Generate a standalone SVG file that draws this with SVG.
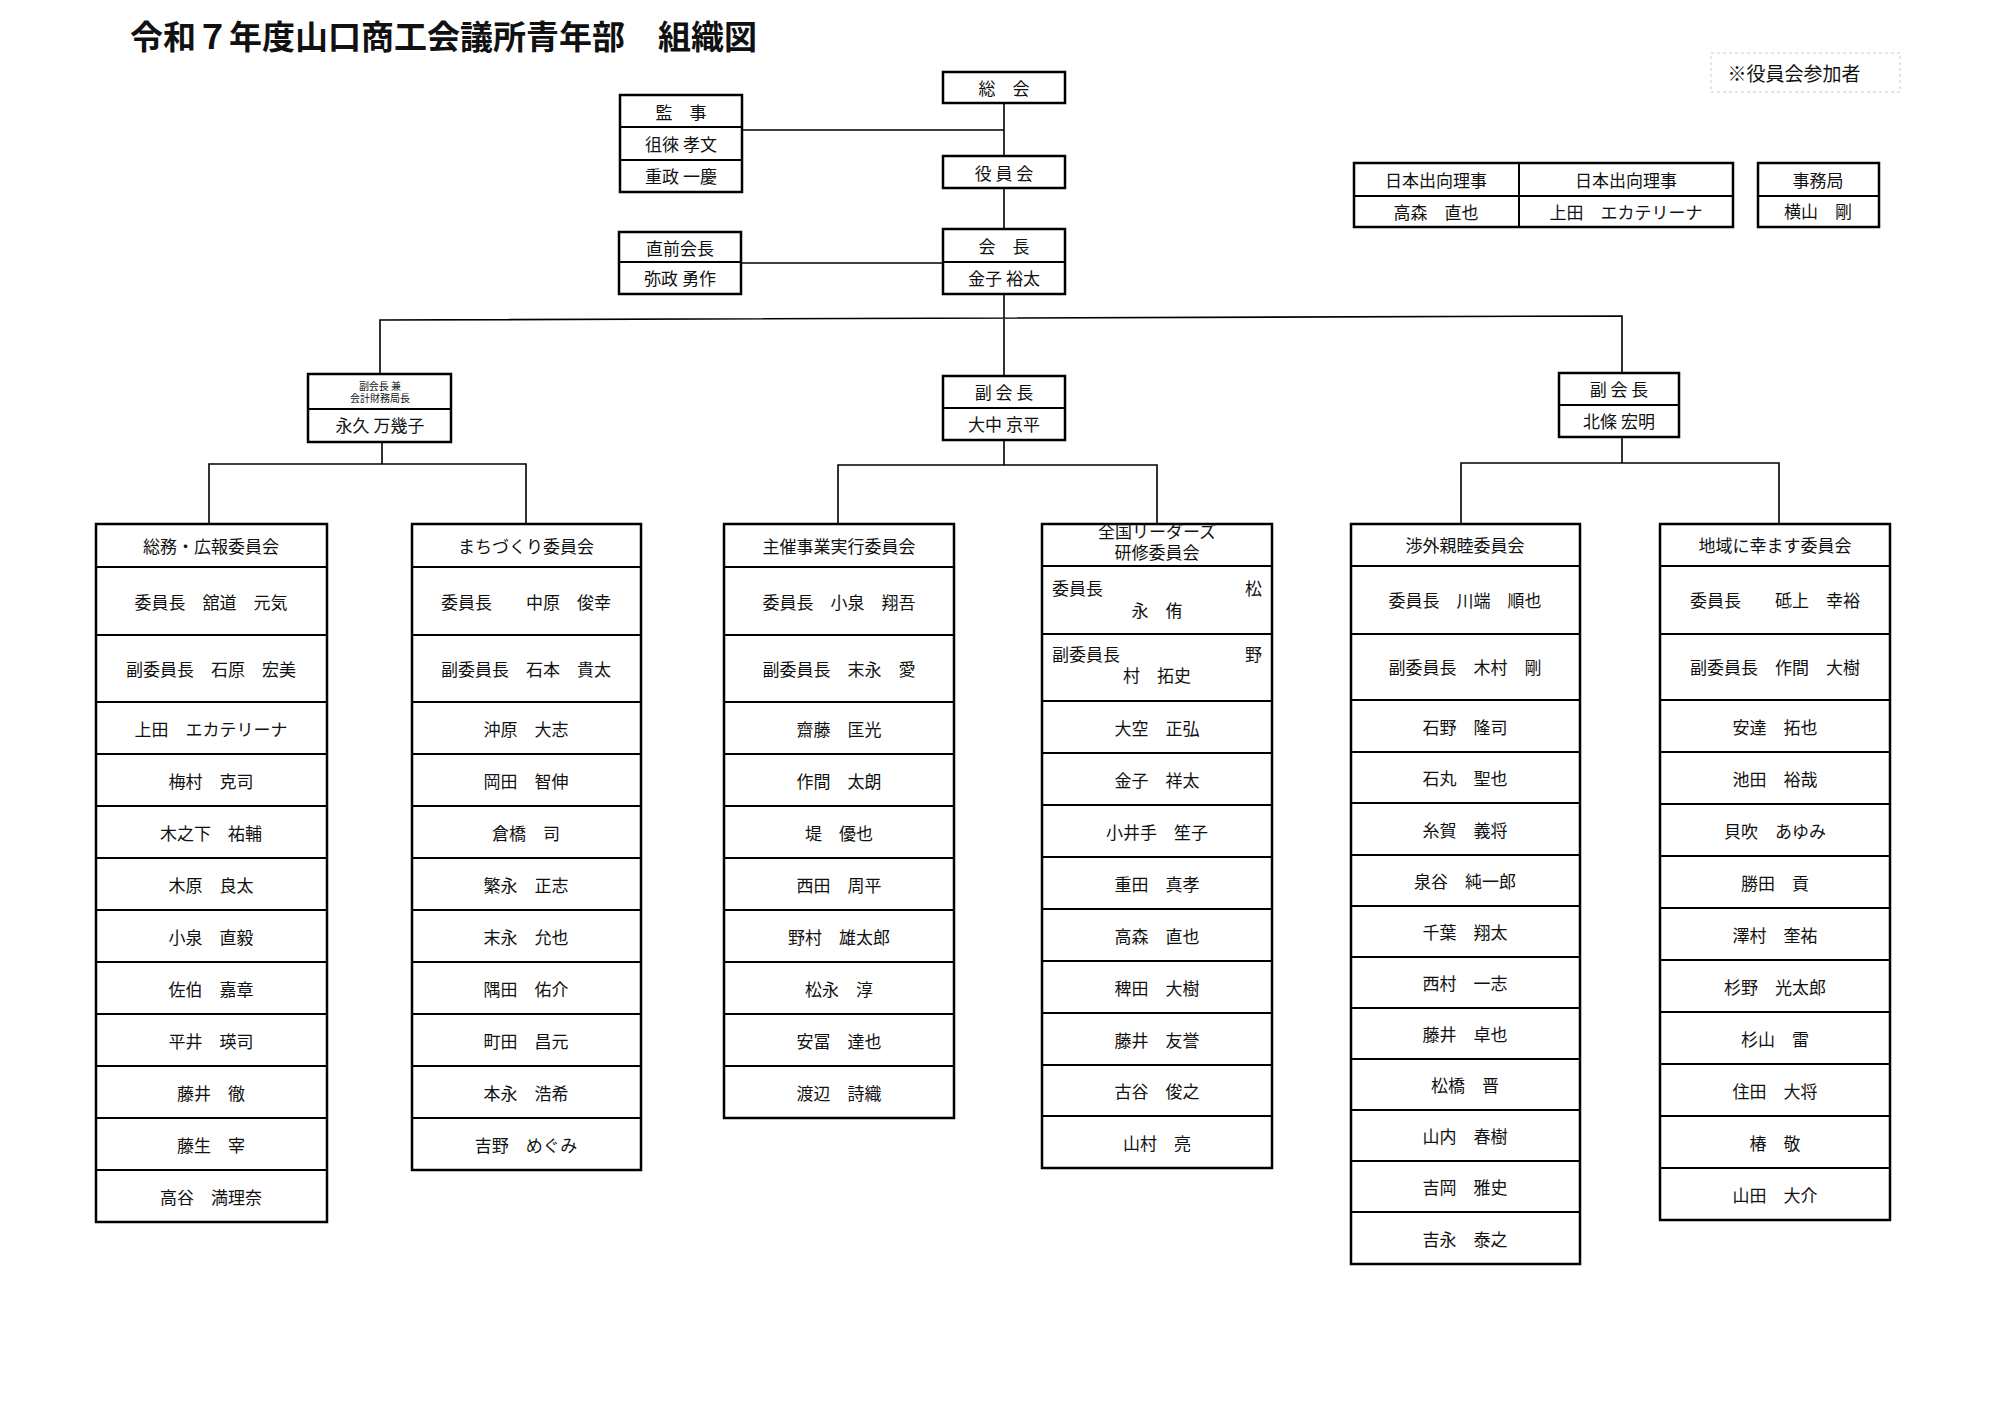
<svg xmlns="http://www.w3.org/2000/svg" width="2000" height="1414" viewBox="0 0 2000 1414">
<style>
text{font-family:"Noto Sans CJK JP","Liberation Sans",sans-serif;font-size:17px;fill:#111;text-anchor:middle;dominant-baseline:central}
.b{fill:#fff;stroke:#000;stroke-width:2.5}
.l{stroke:#000;stroke-width:2;fill:none}
.c{stroke:#000;stroke-width:1.6;fill:none}
.t{font-size:33px;font-weight:bold;text-anchor:start}
.s{font-size:10px}
</style>
<rect width="2000" height="1414" fill="#fff"/>
<text class="t" x="130" y="35">令和７年度山口商工会議所青年部　組織図</text>
<g id="connectors">
<path class="c" d="M1004 103V156M742 130H1004M1004 188V229M741 263H1004M1004 294V376M380 374V320L1622 316V373M382 442V464M209 524V464H526V524M1004 440V465M838 524V465H1157V524M1622 437V463M1461 524V463H1779V524"/>
</g>
<g id="note"><rect x="1711" y="53" width="189" height="39" fill="none" stroke="#ccc" stroke-dasharray="3 3"/><text x="1794" y="72" style="font-size:19px">※役員会参加者</text></g>
<g id="soukai"><rect class="b" x="943" y="72" width="122" height="31"/><text x="1004" y="87">総　会</text></g>
<g id="kanji"><rect class="b" x="620" y="95" width="122" height="97"/><path class="l" d="M620 127H742M620 160H742"/><text x="681" y="111">監　事</text><text x="681" y="143">徂徠 孝文</text><text x="681" y="175">重政 一慶</text></g>
<g id="yakuinkai"><rect class="b" x="943" y="156" width="122" height="32"/><text x="1004" y="172">役 員 会</text></g>
<g id="chokuzen"><rect class="b" x="619" y="232" width="122" height="62"/><path class="l" d="M619 262H741"/><text x="680" y="247">直前会長</text><text x="680" y="277">弥政 勇作</text></g>
<g id="kaicho"><rect class="b" x="943" y="229" width="122" height="65"/><path class="l" d="M943 262H1065"/><text x="1004" y="245">会　長</text><text x="1004" y="277">金子 裕太</text></g>
<g id="nihon"><rect class="b" x="1354" y="163" width="379" height="64"/><path class="l" d="M1354 196H1733M1519 163V227"/><text x="1436" y="179">日本出向理事</text><text x="1626" y="179">日本出向理事</text><text x="1436" y="211">高森　直也</text><text x="1626" y="211">上田　エカテリーナ</text></g>
<g id="jimukyoku"><rect class="b" x="1758" y="163" width="121" height="64"/><path class="l" d="M1758 196H1879"/><text x="1818" y="179">事務局</text><text x="1818" y="210">横山　剛</text></g>
<g id="fuku1"><rect class="b" x="308" y="374" width="143" height="68"/><path class="l" d="M308 409H451"/><text class="s" x="380" y="385">副会長 兼</text><text class="s" x="380" y="397">会計財務局長</text><text x="380" y="424">永久 万幾子</text></g>
<g id="fuku2"><rect class="b" x="943" y="376" width="122" height="64"/><path class="l" d="M943 408H1065"/><text x="1004" y="391">副 会 長</text><text x="1004" y="423">大中 京平</text></g>
<g id="fuku3"><rect class="b" x="1559" y="373" width="120" height="64"/><path class="l" d="M1559 405H1679"/><text x="1619" y="388">副 会 長</text><text x="1619" y="420">北條 宏明</text></g>

<g id="col1"><rect class="b" x="96" y="524" width="231" height="698"/><path class="l" d="M96 567H327M96 635H327M96 702H327M96 754H327M96 806H327M96 858H327M96 910H327M96 962H327M96 1014H327M96 1066H327M96 1118H327M96 1170H327"/>
<text x="211" y="545">総務・広報委員会</text><text x="211" y="601">委員長　舘道　元気</text><text x="211" y="668">副委員長　石原　宏美</text><text x="211" y="728">上田　エカテリーナ</text><text x="211" y="780">梅村　克司</text><text x="211" y="832">木之下　祐輔</text><text x="211" y="884">木原　良太</text><text x="211" y="936">小泉　直毅</text><text x="211" y="988">佐伯　嘉章</text><text x="211" y="1040">平井　瑛司</text><text x="211" y="1092">藤井　徹</text><text x="211" y="1144">藤生　宰</text><text x="211" y="1196">高谷　満理奈</text></g>

<g id="col2"><rect class="b" x="412" y="524" width="229" height="646"/><path class="l" d="M412 567H641M412 635H641M412 702H641M412 754H641M412 806H641M412 858H641M412 910H641M412 962H641M412 1014H641M412 1066H641M412 1118H641"/>
<text x="526" y="545">まちづくり委員会</text><text x="526" y="601">委員長　　中原　俊幸</text><text x="526" y="668">副委員長　石本　貴太</text><text x="526" y="728">沖原　大志</text><text x="526" y="780">岡田　智伸</text><text x="526" y="832">倉橋　司</text><text x="526" y="884">繁永　正志</text><text x="526" y="936">末永　允也</text><text x="526" y="988">隅田　佑介</text><text x="526" y="1040">町田　昌元</text><text x="526" y="1092">本永　浩希</text><text x="526" y="1144">吉野　めぐみ</text></g>

<g id="col3"><rect class="b" x="724" y="524" width="230" height="594"/><path class="l" d="M724 567H954M724 635H954M724 702H954M724 754H954M724 806H954M724 858H954M724 910H954M724 962H954M724 1014H954M724 1066H954"/>
<text x="839" y="545">主催事業実行委員会</text><text x="839" y="601">委員長　小泉　翔吾</text><text x="839" y="668">副委員長　末永　愛</text><text x="839" y="728">齋藤　匡光</text><text x="839" y="780">作間　太朗</text><text x="839" y="832">堤　優也</text><text x="839" y="884">西田　周平</text><text x="839" y="936">野村　雄太郎</text><text x="839" y="988">松永　淳</text><text x="839" y="1040">安冨　達也</text><text x="839" y="1092">渡辺　詩織</text></g>

<g id="col4"><rect class="b" x="1042" y="524" width="230" height="644"/><path class="l" d="M1042 566H1272M1042 634H1272M1042 701H1272M1042 753H1272M1042 805H1272M1042 857H1272M1042 909H1272M1042 961H1272M1042 1013H1272M1042 1065H1272M1042 1116H1272"/>
<text x="1157" y="530">全国リーダーズ</text><text x="1157" y="551">研修委員会</text>
<text x="1052" y="587" style="text-anchor:start">委員長</text><text x="1262" y="587" style="text-anchor:end">松</text><text x="1157" y="609">永　侑</text>
<text x="1052" y="653" style="text-anchor:start">副委員長</text><text x="1262" y="653" style="text-anchor:end">野</text><text x="1157" y="674">村　拓史</text>
<text x="1157" y="727">大空　正弘</text><text x="1157" y="779">金子　祥太</text><text x="1157" y="831">小井手　笙子</text><text x="1157" y="883">重田　真孝</text><text x="1157" y="935">高森　直也</text><text x="1157" y="987">稗田　大樹</text><text x="1157" y="1039">藤井　友誉</text><text x="1157" y="1090">古谷　俊之</text><text x="1157" y="1142">山村　亮</text></g>

<g id="col5"><rect class="b" x="1351" y="524" width="229" height="740"/><path class="l" d="M1351 566H1580M1351 634H1580M1351 700H1580M1351 752H1580M1351 803H1580M1351 855H1580M1351 906H1580M1351 957H1580M1351 1008H1580M1351 1059H1580M1351 1110H1580M1351 1161H1580M1351 1212H1580"/>
<text x="1465" y="544">渉外親睦委員会</text><text x="1465" y="599">委員長　川端　順也</text><text x="1465" y="666">副委員長　木村　剛</text><text x="1465" y="726">石野　隆司</text><text x="1465" y="777">石丸　聖也</text><text x="1465" y="829">糸賀　義将</text><text x="1465" y="880">泉谷　純一郎</text><text x="1465" y="931">千葉　翔太</text><text x="1465" y="982">西村　一志</text><text x="1465" y="1033">藤井　卓也</text><text x="1465" y="1084">松橋　晋</text><text x="1465" y="1135">山内　春樹</text><text x="1465" y="1186">吉岡　雅史</text><text x="1465" y="1238">吉永　泰之</text></g>

<g id="col6"><rect class="b" x="1660" y="524" width="230" height="696"/><path class="l" d="M1660 566H1890M1660 634H1890M1660 700H1890M1660 752H1890M1660 804H1890M1660 856H1890M1660 908H1890M1660 960H1890M1660 1012H1890M1660 1064H1890M1660 1116H1890M1660 1168H1890"/>
<text x="1775" y="544">地域に幸ます委員会</text><text x="1775" y="599">委員長　　砥上　幸裕</text><text x="1775" y="666">副委員長　作間　大樹</text><text x="1775" y="726">安達　拓也</text><text x="1775" y="778">池田　裕哉</text><text x="1775" y="830">貝吹　あゆみ</text><text x="1775" y="882">勝田　貢</text><text x="1775" y="934">澤村　奎祐</text><text x="1775" y="986">杉野　光太郎</text><text x="1775" y="1038">杉山　雷</text><text x="1775" y="1090">住田　大将</text><text x="1775" y="1142">椿　敬</text><text x="1775" y="1194">山田　大介</text></g>
</svg>
